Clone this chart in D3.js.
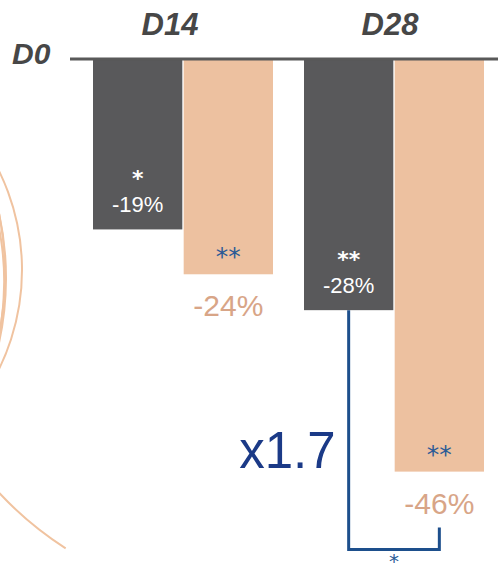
<!DOCTYPE html>
<html>
<head>
<meta charset="utf-8">
<script src="https://cdn.jsdelivr.net/npm/d3@7"></script>
<style>
  body { margin: 0; background: #fff; }
  svg { display: block; }
</style>
</head>
<body>
<div id="chart"></div>
<script>
// timepoints and the two series (percent change vs D0)
var days = ["D14", "D28"];
var series = ["ref", "test"];
var refValues = [-19, -28];
var testValues = [-24, -46];
var refStars = ["*", "**"];
var testStars = ["**", "**"];
var baseLabel = "D0";
var foldLabel = "x1.7";
var foldStar = "*";

// decorative arcs at the left edge: [cx, cy, r, startAngle, endAngle]
var arcs = [
  [-203, 270, 225, 0.9, 2.2],
  [-297, 278, 303, 1.2, 1.95],
  [-300, 274, 305, 1.25, 1.9],
  [-294, 282, 298, 1.3, 1.85],
  [255, 254, 350, -2.57, -2.2]
];

var W = 498, H = 573;
var grey = "#59595b", peach = "#edc1a0";
var sans = "Liberation Sans, Arial, sans-serif";
var starFont = "DejaVu Sans, sans-serif";

var svg = d3.select("#chart").append("svg")
    .attr("width", W)
    .attr("height", H);

// arcs
svg.selectAll(".deco")
    .data(arcs)
    .enter().append("path")
    .attr("class", "deco")
    .attr("transform", function(d) { return "translate(" + d[0] + "," + d[1] + ")"; })
    .attr("d", function(d) {
        return d3.arc()({innerRadius: d[2], outerRadius: d[2], startAngle: d[3], endAngle: d[4]});
    })
    .attr("fill", "none")
    .attr("stroke", "#f0c3a0")
    .attr("stroke-width", 2);

var x0 = d3.scaleBand().domain(days).range([93, 484]).paddingInner(0.147);
var x1 = d3.scaleBand().domain(series).range([0, x0.bandwidth()]).paddingInner(0.015);
var y = d3.scaleLinear().domain([0, -50]).range([59, 507.5]);

var rows = days.map(function(d, i) {
    return [
        {day: d, key: "ref", v: refValues[i], star: refStars[i]},
        {day: d, key: "test", v: testValues[i], star: testStars[i]}
    ];
});

var group = svg.selectAll(".grp")
    .data(rows)
    .enter().append("g")
    .attr("class", "grp")
    .attr("transform", function(d, i) { return "translate(" + x0(days[i]) + ",0)"; });

var bar = group.selectAll(".bar")
    .data(function(d) { return d; })
    .enter().append("g")
    .attr("class", "bar");

bar.append("rect")
    .attr("x", function(d) { return x1(d.key); })
    .attr("y", y(0))
    .attr("width", x1.bandwidth())
    .attr("height", function(d) { return y(d.v) - y(0); })
    .attr("fill", function(d) { return d.key == "ref" ? grey : peach; });

var cx = function(d) { return x1(d.key) + x1.bandwidth() / 2; };
var fmt = function(v) { return v + "%"; };

// grey bars: stars over the value, both white
var ref = bar.filter(function(d) { return d.key == "ref"; });
ref.append("text")
    .attr("x", cx)
    .attr("y", function(d) { return y(d.v) - 43; })
    .attr("text-anchor", "middle")
    .attr("font-family", starFont)
    .attr("font-weight", "bold")
    .attr("font-size", 22)
    .attr("fill", "#fff")
    .text(function(d) { return d.star; });
ref.append("text")
    .attr("x", cx)
    .attr("y", function(d) { return y(d.v) - 17; })
    .attr("text-anchor", "middle")
    .attr("font-family", sans)
    .attr("font-size", 22)
    .attr("fill", "#fff")
    .text(function(d) { return fmt(d.v); });

// peach bars: blue stars inside, value below
var test = bar.filter(function(d) { return d.key == "test"; });
test.append("text")
    .attr("x", cx)
    .attr("y", function(d) { return y(d.v) - 9; })
    .attr("text-anchor", "middle")
    .attr("font-family", starFont)
    .attr("font-size", 25)
    .attr("fill", "#2b5b96")
    .text(function(d) { return d.star; });
test.append("text")
    .attr("x", cx)
    .attr("y", function(d) { return y(d.v) + 42; })
    .attr("text-anchor", "middle")
    .attr("font-family", sans)
    .attr("font-size", 30)
    .attr("fill", "#d8a587")
    .text(function(d) { return fmt(d.v); });

// baseline axis
svg.append("line")
    .attr("x1", 70).attr("x2", W)
    .attr("y1", y(0)).attr("y2", y(0))
    .attr("stroke", "#595959")
    .attr("stroke-width", 3);

svg.append("text")
    .attr("x", 12)
    .attr("y", 64)
    .attr("font-family", sans)
    .attr("font-size", 30)
    .attr("font-weight", "bold")
    .attr("font-style", "italic")
    .attr("fill", "#474747")
    .text(baseLabel);

svg.selectAll(".daylab")
    .data(days)
    .enter().append("text")
    .attr("class", "daylab")
    .attr("x", function(d, i) { return x0(d) + x0.bandwidth() / 2 - (i == 0 ? 13 : 4); })
    .attr("y", 35)
    .attr("text-anchor", "middle")
    .attr("font-family", sans)
    .attr("font-size", 31)
    .attr("font-weight", "bold")
    .attr("font-style", "italic")
    .attr("fill", "#474747")
    .text(function(d) { return d; });

// bracket comparing D28 bars
var bx1 = x0("D28") + x1("ref") + x1.bandwidth() / 2;
var bx2 = x0("D28") + x1("test") + x1.bandwidth() / 2;
var bBottom = y(-46) + 78;
var bracket = d3.path();
bracket.moveTo(bx1, y(refValues[1]));
bracket.lineTo(bx1, bBottom);
bracket.lineTo(bx2, bBottom);
bracket.lineTo(bx2, bBottom - 22);
svg.append("path")
    .attr("d", bracket.toString())
    .attr("fill", "none")
    .attr("stroke", "#1d4f8c")
    .attr("stroke-width", 3);

svg.append("text")
    .attr("x", (bx1 + bx2) / 2)
    .attr("y", 568)
    .attr("text-anchor", "middle")
    .attr("font-family", starFont)
    .attr("font-size", 20)
    .attr("fill", "#2b5b96")
    .text(foldStar);

svg.append("text")
    .attr("x", bx1 - 13)
    .attr("y", 468)
    .attr("text-anchor", "end")
    .attr("font-family", sans)
    .attr("font-size", 51)
    .attr("fill", "#1b3a87")
    .text(foldLabel);
</script>
</body>
</html>
